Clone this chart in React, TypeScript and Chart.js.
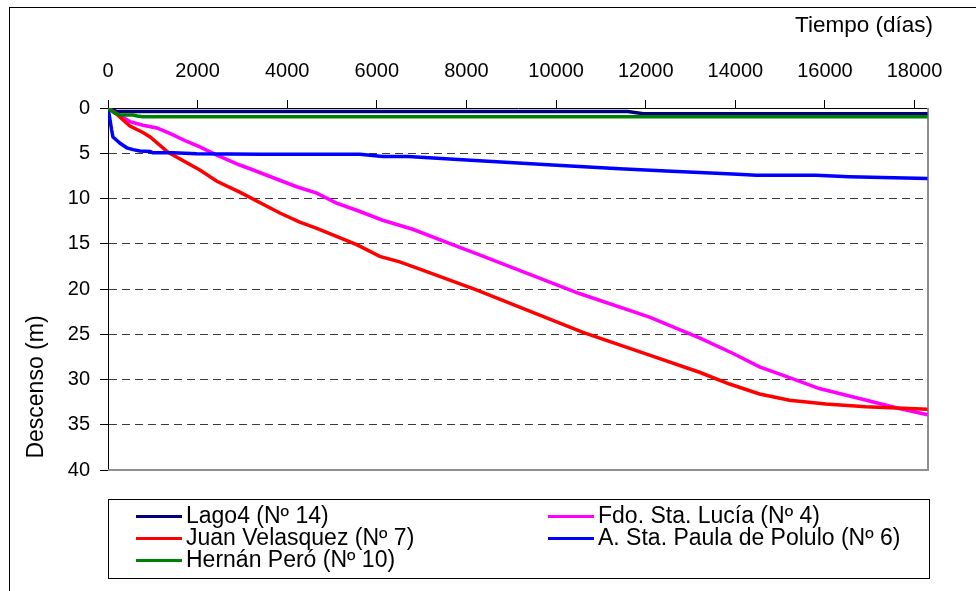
import React, { useEffect, useRef } from "react";
import { Chart, registerables } from "chart.js";

Chart.register(...registerables);

const FONT = "'Liberation Sans', Arial, Helvetica, sans-serif";

// Series names (legend order, row-wise in two columns)
const seriesNames = [
  "Lago4 (Nº 14)",
  "Fdo. Sta. Lucía (Nº 4)",
  "Juan Velasquez (Nº 7)",
  "A. Sta. Paula de Polulo (Nº 6)",
  "Hernán Peró (Nº 10)",
];
const seriesColors = ["#000080", "#FF00FF", "#FF0000", "#0000FF", "#008000"];

// Lago4 (Nº 14)
const lagoDays = [0, 200, 11600, 11950, 18290];
const lagoDepth = [0, 0.4, 0.4, 0.63, 0.63];

// Fdo. Sta. Lucía (Nº 4)
const luciaDays = [0, 150, 490, 780, 1090, 1380, 1760, 2050, 2430, 2940, 3240, 4210, 4660, 5100, 5550, 6130, 6800, 7850, 8220, 10520, 12085, 13200, 13940, 14540, 15210, 15875, 16770, 17660, 18290];
const luciaDepth = [0, 0.5, 1.5, 1.9, 2.2, 2.8, 3.7, 4.3, 5.2, 6.3, 6.85, 8.7, 9.4, 10.5, 11.3, 12.4, 13.4, 15.4, 16.1, 20.5, 23.1, 25.4, 27.1, 28.6, 29.8, 31.0, 32.1, 33.2, 33.9];

// Juan Velasquez (Nº 7)
const juanDays = [0, 150, 490, 780, 940, 1340, 2050, 2430, 2940, 3835, 4280, 4660, 5550, 6065, 6510, 6960, 8220, 10600, 12085, 13200, 13870, 14540, 15210, 16020, 16915, 18290];
const juanDepth = [0, 0.5, 2.0, 2.7, 3.2, 4.9, 6.85, 8.1, 9.3, 11.6, 12.6, 13.3, 15.1, 16.4, 17.0, 17.8, 20.1, 24.8, 27.3, 29.2, 30.5, 31.6, 32.3, 32.7, 33.0, 33.3];

// A. Sta. Paula de Polulo (Nº 6)
const paulaDays = [0, 45, 80, 110, 270, 420, 560, 710, 940, 1000, 1450, 1980, 3390, 5620, 6130, 6700, 8000, 9920, 11420, 12460, 13940, 14470, 15800, 16540, 18290];
const paulaDepth = [0, 1.3, 2.4, 3.2, 3.9, 4.4, 4.6, 4.75, 4.8, 4.95, 4.95, 5.05, 5.1, 5.1, 5.35, 5.35, 5.75, 6.3, 6.7, 6.96, 7.3, 7.44, 7.44, 7.6, 7.8];

// Hernán Peró (Nº 10)
const hernanDays = [0, 160, 270, 560, 650, 780, 18290];
const hernanDepth = [0, 0.6, 0.77, 0.77, 0.88, 0.96, 0.96];

const seriesDays = [lagoDays, luciaDays, juanDays, paulaDays, hernanDays];
const seriesDepth = [lagoDepth, luciaDepth, juanDepth, paulaDepth, hernanDepth];
// drawing order (Excel draws later series on top)
const seriesOrder = [5, 4, 3, 2, 1];

const xTickValues = [0, 2000, 4000, 6000, 8000, 10000, 12000, 14000, 16000, 18000];
const yTickValues = [0, 5, 10, 15, 20, 25, 30, 35, 40];

const xTitle = "Tiempo (días)";
const yTitle = "Descenso (m)";
const xMax = 18300;
const yMax = 40;

const framePlugin = {
  id: "frameAndTitles",
  beforeDatasetsDraw(chart: any) {
    const { ctx, chartArea: a } = chart;
    ctx.save();
    ctx.strokeStyle = "#8f8f8f";
    ctx.lineWidth = 2;
    ctx.setLineDash([]);
    ctx.beginPath();
    ctx.moveTo(a.right, a.top);
    ctx.lineTo(a.right, a.bottom);
    ctx.lineTo(a.left, a.bottom);
    ctx.stroke();
    ctx.restore();
  },
  afterDraw(chart: any) {
    const { ctx } = chart;
    ctx.save();
    ctx.fillStyle = "#000";
    ctx.font = `22.5px ${FONT}`;
    ctx.textAlign = "right";
    ctx.textBaseline = "middle";
    ctx.fillText(xTitle, 933, 26);
    ctx.translate(37, 387);
    ctx.rotate(-Math.PI / 2);
    ctx.textAlign = "center";
    ctx.font = `23px ${FONT}`;
    ctx.fillText(yTitle, 0, 0);
    ctx.restore();
  },
};

export default function App() {
  const ref = useRef<HTMLCanvasElement | null>(null);

  useEffect(() => {
    if (!ref.current) return;
    const datasets = seriesNames.map((name, i) => ({
      label: name,
      data: seriesDays[i].map((d, j) => ({ x: d, y: seriesDepth[i][j] })),
      borderColor: seriesColors[i],
      backgroundColor: seriesColors[i],
      borderWidth: 3.5,
      pointRadius: 0,
      tension: 0,
      fill: false,
      order: seriesOrder[i],
    }));
    const chart = new Chart(ref.current, {
      type: "line",
      data: { datasets },
      plugins: [framePlugin],
      options: {
        responsive: false,
        animation: false,
        devicePixelRatio: 1,
        layout: { padding: { left: 0, top: 0, right: 48, bottom: 121 } },
        plugins: { legend: { display: false }, tooltip: { enabled: false } },
        scales: {
          x: {
            type: "linear",
            position: "top",
            min: 0,
            max: xMax,
            afterBuildTicks: (s: any) => {
              s.ticks = xTickValues.map((v) => ({ value: v }));
            },
            afterFit: (s: any) => {
              s.height = 108;
            },
            border: { display: true, color: "#000", width: 1 },
            grid: {
              drawOnChartArea: false,
              drawTicks: true,
              tickLength: 8,
              tickColor: "#000",
            },
            ticks: {
              autoSkip: false,
              maxRotation: 0,
              padding: 17,
              color: "#000",
              font: { family: FONT, size: 20 },
              callback: (v: any) => String(v),
            },
          },
          y: {
            type: "linear",
            reverse: true,
            min: 0,
            max: yMax,
            afterBuildTicks: (s: any) => {
              s.ticks = yTickValues.map((v) => ({ value: v }));
            },
            afterFit: (s: any) => {
              s.width = 108;
            },
            border: { display: true, color: "#000", width: 1, dash: [8, 5] },
            grid: {
              color: (c: any) =>
                c.tick && (c.tick.value === 0 || c.tick.value === yMax) ? "rgba(0,0,0,0)" : "#3a3a3a",
              lineWidth: 1,
              drawTicks: true,
              tickLength: 8,
              tickColor: "#000",
              tickBorderDash: [],
            },
            ticks: {
              autoSkip: false,
              padding: 10,
              color: "#000",
              font: { family: FONT, size: 20 },
              callback: (v: any) => String(v),
            },
          },
        },
      },
    });
    return () => chart.destroy();
  }, []);

  const rowTops = [4, 26, 48];
  const colSwatch = [27, 439];
  const colText = [77, 489];

  return (
    <div style={{ position: "absolute", left: 0, top: 0, width: 976, height: 591, overflow: "hidden", background: "#fff" }}>
      <div
        style={{
          position: "absolute",
          left: 9,
          top: 7,
          width: 1000,
          height: 700,
          border: "1px solid #000",
          boxSizing: "border-box",
        }}
      />
      <canvas ref={ref} width={976} height={591} style={{ position: "absolute", left: 0, top: 0, width: 976, height: 591 }} />
      <div
        style={{
          position: "absolute",
          left: 108,
          top: 499,
          width: 822,
          height: 80,
          border: "1px solid #000",
          boxSizing: "border-box",
          fontFamily: FONT,
          fontSize: 23,
          color: "#000",
        }}
      >
        {seriesNames.map((name, i) => {
          const row = Math.floor(i / 2);
          const col = i % 2;
          return (
            <div key={name}>
              <div
                style={{
                  position: "absolute",
                  left: colSwatch[col],
                  top: rowTops[row] + 11,
                  width: 46,
                  height: 3,
                  background: seriesColors[i],
                }}
              />
              <div
                style={{
                  position: "absolute",
                  left: colText[col],
                  top: rowTops[row],
                  height: 22,
                  lineHeight: "22px",
                  whiteSpace: "nowrap",
                }}
              >
                {name}
              </div>
            </div>
          );
        })}
      </div>
    </div>
  );
}
